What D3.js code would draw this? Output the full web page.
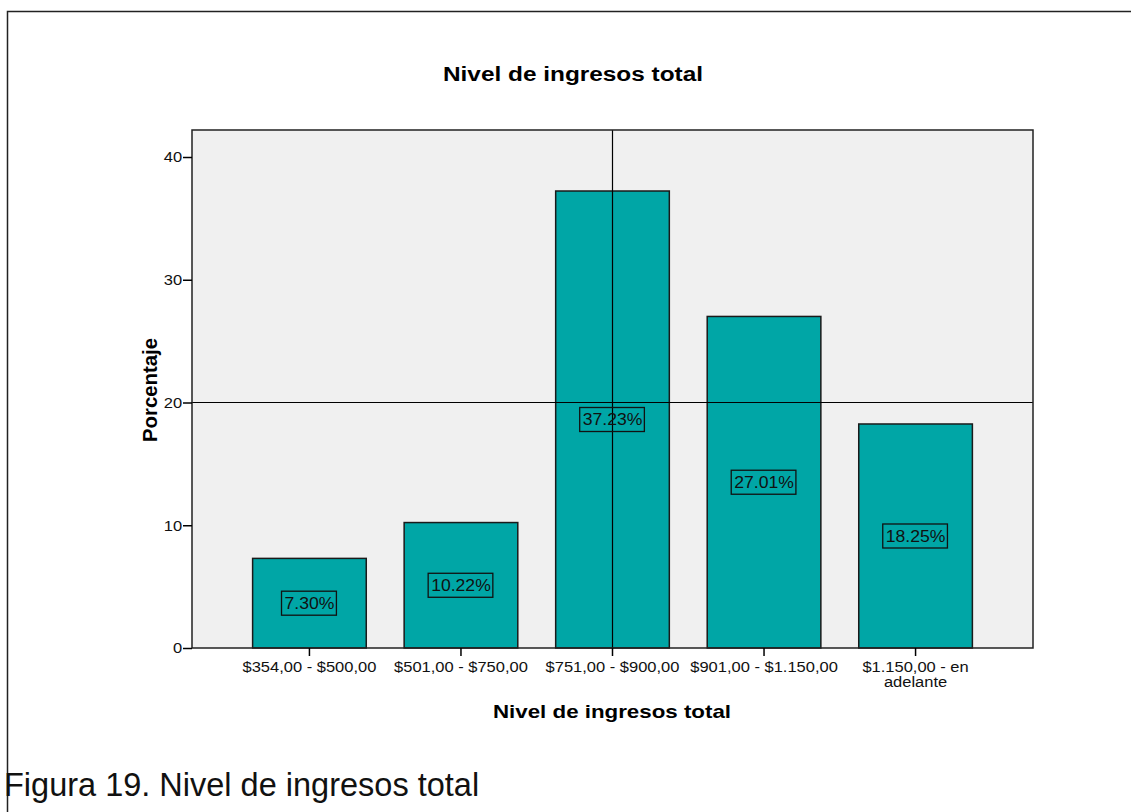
<!DOCTYPE html>
<html>
<head>
<meta charset="utf-8">
<script src="https://cdn.jsdelivr.net/npm/d3@7"></script>
<style>
  body { margin: 0; background: #fff; }
  svg { display: block; font-family: "Liberation Sans", Arial, sans-serif; }
</style>
</head>
<body>
<svg width="1131" height="812"></svg>
<script>
// data
var categories = ["$354,00 - $500,00", "$501,00 - $750,00", "$751,00 - $900,00", "$901,00 - $1.150,00", "$1.150,00 - en adelante"];
var percentages = [7.30, 10.22, 37.23, 27.01, 18.25];
var yTicks = [0, 10, 20, 30, 40];
var refValue = 20;

var data = categories.map(function(c, i) { return {cat: c, pct: percentages[i]}; });

var svg = d3.select("svg"),
    margin = {top: 130, right: 98, bottom: 164, left: 192},
    width = +svg.attr("width") - margin.left - margin.right,
    height = +svg.attr("height") - margin.top - margin.bottom;

// text in the source image is a bit wider than normal Arial
var stretch = "scale(1.1,1)";

// outer frame (open at right and bottom)
svg.append("path")
    .attr("d", "M7.5,812 V11.5 H1131")
    .attr("fill", "none")
    .attr("stroke", "#222")
    .attr("stroke-width", 1.5);

svg.append("text")
    .attr("x", 443)
    .attr("y", 81)
    .attr("font-weight", "bold")
    .attr("font-size", 20)
    .attr("textLength", 260)
    .attr("lengthAdjust", "spacingAndGlyphs")
    .text("Nivel de ingresos total");

var g = svg.append("g")
    .attr("transform", "translate(" + margin.left + "," + margin.top + ")");

var x = d3.scaleBand()
    .domain(categories)
    .range([0, width])
    .paddingInner(0.25)
    .paddingOuter(0.4);

var y = d3.scaleLinear()
    .domain([0, 42.2])
    .range([height, 0]);

g.append("rect")
    .attr("width", width)
    .attr("height", height)
    .attr("fill", "#f0f0f0");

g.selectAll(".bar")
  .data(data)
  .enter().append("rect")
    .attr("class", "bar")
    .attr("x", function(d) { return x(d.cat); })
    .attr("y", function(d) { return y(d.pct); })
    .attr("width", x.bandwidth())
    .attr("height", function(d) { return height - y(d.pct); })
    .attr("fill", "#00a6a6")
    .attr("stroke", "#1a1a1a")
    .attr("stroke-width", 1.5);

// reference lines
g.append("line")
    .attr("x1", 0).attr("x2", width)
    .attr("y1", y(refValue)).attr("y2", y(refValue))
    .attr("stroke", "#000").attr("stroke-width", 1.2);
g.append("line")
    .attr("x1", width / 2).attr("x2", width / 2)
    .attr("y1", 0).attr("y2", height)
    .attr("stroke", "#000").attr("stroke-width", 1.2);

// value labels
var lab = g.selectAll(".lab")
  .data(data)
  .enter().append("g")
    .attr("class", "lab")
    .attr("transform", function(d) {
      return "translate(" + (x(d.cat) + x.bandwidth() / 2) + "," + y(d.pct / 2) + ")";
    });

lab.append("text")
    .attr("text-anchor", "middle")
    .attr("dy", "0.36em")
    .attr("font-size", 16)
    .attr("transform", stretch)
    .attr("fill", "#111")
    .text(function(d) { return d.pct.toFixed(2) + "%"; });

lab.each(function() {
  var t = d3.select(this).select("text").node().getBBox();
  d3.select(this).insert("rect", "text")
      .attr("x", t.x * 1.1 - 3)
      .attr("y", -12)
      .attr("width", t.width * 1.1 + 5)
      .attr("height", 24)
      .attr("fill", "none")
      .attr("stroke", "#111")
      .attr("stroke-width", 1.3);
});

// frame of plot
g.append("rect")
    .attr("width", width)
    .attr("height", height)
    .attr("fill", "none")
    .attr("stroke", "#222")
    .attr("stroke-width", 1.5);

// axes
var yAxis = g.append("g")
    .call(d3.axisLeft(y).tickValues(yTicks).tickSize(9).tickPadding(0));
yAxis.select(".domain").remove();
yAxis.selectAll("line").attr("stroke", "#000").attr("stroke-width", 1.5);
yAxis.selectAll("text").attr("font-size", 15).attr("fill", "#111")
    .attr("transform", stretch)
    .attr("font-family", "Liberation Sans, Arial, sans-serif");

var xAxis = g.append("g")
    .attr("transform", "translate(0," + height + ")")
    .call(d3.axisBottom(x).tickSize(8).tickPadding(5));
xAxis.select(".domain").remove();
xAxis.selectAll("line").attr("stroke", "#000").attr("stroke-width", 1.5);
xAxis.selectAll("text")
    .attr("font-size", 15).attr("fill", "#111")
    .attr("transform", stretch)
    .attr("font-family", "Liberation Sans, Arial, sans-serif")
    .each(function(d) {
      if (d.indexOf("en adelante") > -1) {
        var t = d3.select(this).text("");
        t.append("tspan").attr("x", 0).attr("dy", "0.71em").text("$1.150,00 - en");
        t.append("tspan").attr("x", 0).attr("dy", "1.0em").text("adelante");
      }
    });

svg.append("text")
    .attr("x", 493)
    .attr("y", 718)
    .attr("font-weight", "bold")
    .attr("font-size", 18.5)
    .attr("textLength", 238)
    .attr("lengthAdjust", "spacingAndGlyphs")
    .text("Nivel de ingresos total");

svg.append("text")
    .attr("transform", "translate(157,442) rotate(-90)")
    .attr("font-weight", "bold")
    .attr("font-size", 19.5)
    .attr("textLength", 104)
    .attr("lengthAdjust", "spacingAndGlyphs")
    .text("Porcentaje");

svg.append("text")
    .attr("x", 4)
    .attr("y", 796)
    .attr("font-size", 32.5)
    .attr("fill", "#111")
    .text("Figura 19. Nivel de ingresos total");
</script>
</body>
</html>
